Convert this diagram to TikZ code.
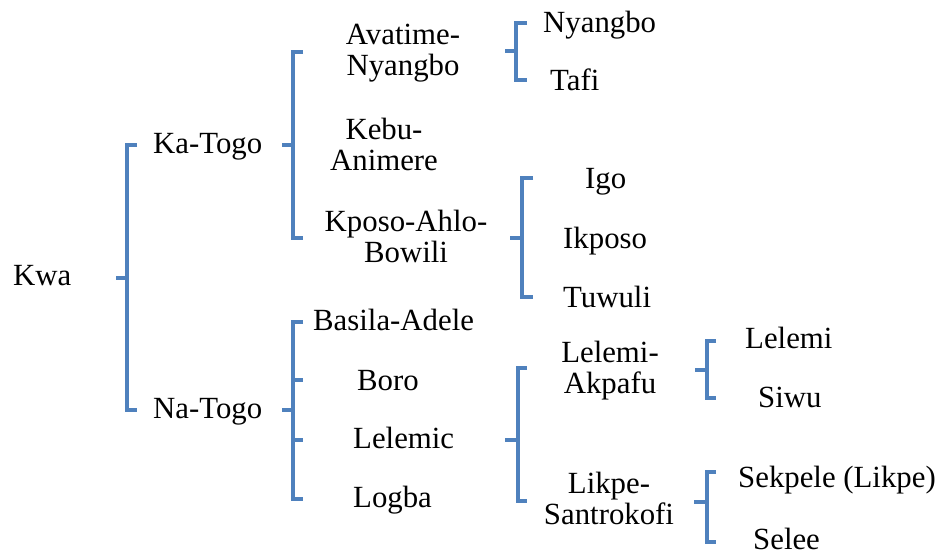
\documentclass[tikz,border=0pt]{standalone}
\usepackage{fontspec}
\setmainfont{Liberation Serif}
\definecolor{brblue}{RGB}{79,129,189}
\tikzset{
  lbl/.style={inner sep=0pt, anchor=base west, font=\fontsize{30.8}{31}\selectfont},
  mlbl/.style={inner sep=0pt, anchor=base, align=center, font=\fontsize{30.8}{31}\selectfont},
  br/.style={draw=brblue, line width=3.9pt, line join=miter}
}
\begin{document}
\begin{tikzpicture}[x=1pt,y=-1pt]
\useasboundingbox (0,0) rectangle (935,554);
% labels (multi-line nodes: base = last line)
\node[lbl] (kwa) at (13,285) {Kwa};
\node[lbl] (katogo) at (153,153) {Ka-Togo};
\node[lbl] (natogo) at (153,418) {Na-Togo};
\node[mlbl] (avatime) at (403,75) {Avatime-\\Nyangbo};
\node[mlbl] (kebu) at (384,170) {Kebu-\\Animere};
\node[mlbl] (kposo) at (406,262) {Kposo-Ahlo-\\Bowili};
\node[lbl] (nyangbo) at (543,32) {Nyangbo};
\node[lbl] (tafi) at (550,90) {Tafi};
\node[lbl] (igo) at (585,188) {Igo};
\node[lbl] (ikposo) at (563,248) {Ikposo};
\node[lbl] (tuwuli) at (563,307) {Tuwuli};
\node[lbl] (basila) at (313,330) {Basila-Adele};
\node[lbl] (boro) at (357,390) {Boro};
\node[lbl] (lelemic) at (353,448) {Lelemic};
\node[lbl] (logba) at (353,507) {Logba};
\node[mlbl] (lelemiak) at (610,393) {Lelemi-\\Akpafu};
\node[mlbl] (likpe) at (609,524) {Likpe-\\Santrokofi};
\node[lbl] (lelemi) at (745,348) {Lelemi};
\node[lbl] (siwu) at (758,407) {Siwu};
\node[lbl] (sekpele) at (738,487) {Sekpele (Likpe)};
\node[lbl] (selee) at (753,549) {Selee};
% brackets
\draw[br] (137,145) -- (127,145) -- (127,410) -- (137,410);
\draw[br] (116,278) -- (127,278);
\draw[br] (303,52) -- (293,52) -- (293,238) -- (303,238);
\draw[br] (282,145) -- (293,145);
\draw[br] (527,23) -- (516,23) -- (516,80) -- (527,80);
\draw[br] (505,51) -- (516,51);
\draw[br] (533,178) -- (522,178) -- (522,297) -- (533,297);
\draw[br] (510,238) -- (522,238);
\draw[br] (303,322) -- (293,322) -- (293,499) -- (303,499);
\draw[br] (293,380) -- (303,380);
\draw[br] (293,440) -- (303,440);
\draw[br] (282,410) -- (293,410);
\draw[br] (527,368) -- (518,368) -- (518,501) -- (527,501);
\draw[br] (505,440) -- (518,440);
\draw[br] (716,341) -- (707,341) -- (707,398) -- (716,398);
\draw[br] (695,370) -- (707,370);
\draw[br] (716,472) -- (707,472) -- (707,542) -- (716,542);
\draw[br] (694,502) -- (707,502);
\end{tikzpicture}
\end{document}
